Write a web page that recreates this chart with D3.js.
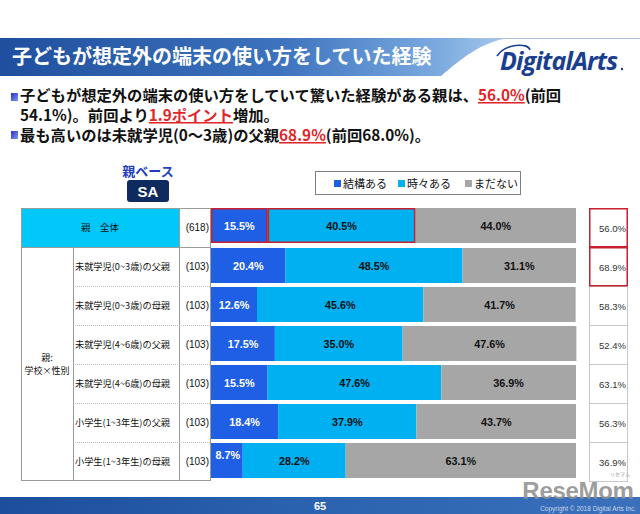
<!DOCTYPE html>
<html><head><meta charset="utf-8">
<script src="https://cdn.jsdelivr.net/npm/d3@7"></script>
<style>
body{margin:0;background:#fff;}
svg{display:block;font-family:"Noto Sans CJK JP","Noto Sans",sans-serif;}
</style>
</head><body>
<svg id="c" width="640" height="514"></svg>
<script>
// ---------- data ----------
const categories = ["親　全体","未就学児(0~3歳)の父親","未就学児(0~3歳)の母親","未就学児(4~6歳)の父親","未就学児(4~6歳)の母親","小学生(1~3年生)の父親","小学生(1~3年生)の母親"];
const sampleN = ["(618)","(103)","(103)","(103)","(103)","(103)","(103)"];
const seriesNames = ["結構ある","時々ある","まだない"];
const often = [15.5,20.4,12.6,17.5,15.5,18.4,8.7];
const sometimes = [40.5,48.5,45.6,35.0,47.6,37.9,28.2];
const notYet = [44.0,31.1,41.7,47.6,36.9,43.7,63.1];
const totalExp = [56.0,68.9,58.3,52.4,63.1,56.3,36.9];
const groupLabel = ["親:","学校×性別"];
const colors = ["#1F5FE6","#00B0F0","#A6A6A6"];

const svg = d3.select("#c");
const defs = svg.append("defs");

// ---------- header band ----------
const hg = defs.append("linearGradient").attr("id","hg").attr("x1","0").attr("x2","1");
hg.append("stop").attr("offset","0").attr("stop-color","#1F4F9E");
hg.append("stop").attr("offset","0.55").attr("stop-color","#3D73BE");
hg.append("stop").attr("offset","0.85").attr("stop-color","#78A8DE");
hg.append("stop").attr("offset","1").attr("stop-color","#A9C9EC");
svg.append("path").attr("d","M0,38 H510 C482,41 460,60 441,76 H0 Z").attr("fill","url(#hg)");
svg.append("line").attr("x1",470).attr("x2",640).attr("y1",38.5).attr("y2",38.5).attr("stroke","#A9BFDC").attr("stroke-width",1);
svg.append("text").attr("x",12).attr("y",64).attr("fill","#fff").attr("font-size",20).attr("font-weight","bold")
  .text("子どもが想定外の端末の使い方をしていた経験");
// logo
svg.append("text").attr("x",500).attr("y",70).attr("fill","#1B3F8F").attr("font-size",25).attr("font-weight","bold")
  .attr("font-style","italic").attr("font-family","'Open Sans',sans-serif").attr("letter-spacing",-0.8).text("DigitalArts");
svg.append("path").attr("d","M497,56 C505,44 528,42 530,50").attr("fill","none").attr("stroke","#1B3F8F").attr("stroke-width",1.6);
svg.append("circle").attr("cx",622).attr("cy",69).attr("r",1.2).attr("fill","#1B3F8F");

// ---------- bullets ----------
const bg = defs.append("linearGradient").attr("id","bg").attr("x1","0").attr("y1","0").attr("x2","1").attr("y2","1");
bg.append("stop").attr("offset","0").attr("stop-color","#2B2FC8");
bg.append("stop").attr("offset","1").attr("stop-color","#7C9BEA");
[97,135].forEach(yy=>svg.append("rect").attr("x",11).attr("y",yy-4).attr("width",7).attr("height",8).attr("fill","url(#bg)"));
const bl = [
  {y:101, parts:[["子どもが想定外の端末の使い方をしていて驚いた経験がある親は、",0],["56.0%",1],["(前回",0]]},
  {y:121, parts:[["54.1%)。前回より",0],["1.9ポイント",1],["増加。",0]]},
  {y:141, parts:[["最も高いのは未就学児(0～3歳)の父親",0],["68.9%",1],["(前回68.0%)。",0]]}
];
bl.forEach(l=>{
  const t = svg.append("text").attr("x",20).attr("y",l.y).attr("font-size",15.3).attr("font-weight","bold").attr("fill","#111");
  l.parts.forEach(p=>{
    const ts = t.append("tspan").text(p[0]);
    if(p[1]) ts.attr("fill","#E0262A").style("text-decoration","underline");
  });
});

// ---------- base / SA ----------
svg.append("text").attr("x",148).attr("y",176).attr("text-anchor","middle").attr("font-size",13).attr("font-weight","bold").attr("fill","#1F3FC0").text("親ベース");
svg.append("rect").attr("x",127).attr("y",180).attr("width",42).attr("height",22).attr("rx",3).attr("fill","#0F2A5E");
svg.append("text").attr("x",148).attr("y",197).attr("text-anchor","middle").attr("font-size",15).attr("font-weight","bold").attr("fill","#fff").attr("font-family","'Liberation Sans',sans-serif").text("SA");

// ---------- legend ----------
svg.append("rect").attr("x",315.5).attr("y",171.5).attr("width",205).attr("height",23).attr("fill","#fff").attr("stroke","#7F7F7F");
const legX = [334,398,465];
seriesNames.forEach((s,i)=>{
  svg.append("rect").attr("x",legX[i]).attr("y",180).attr("width",7).attr("height",7).attr("fill",colors[i]);
  svg.append("text").attr("x",legX[i]+9).attr("y",187.5).attr("font-size",11).attr("fill","#111").text(s);
});

// ---------- scales ----------
const x = d3.scaleLinear().domain([0,100]).range([211,576]);
const y = d3.scaleBand().domain(categories).range([208,481]);
const rows = categories.map((c,i)=>({cat:c,n:sampleN[i],v0:often[i],v1:sometimes[i],v2:notYet[i],tot:totalExp[i]}));
const stack = d3.stack().keys(["v0","v1","v2"])(rows);

// ---------- table ----------
const L0=21, L1=73, L2=179, L3=211;
const lineC="#9A9A9A";
svg.append("rect").attr("x",L0).attr("y",y(categories[0])).attr("width",L2-L0).attr("height",y.bandwidth()).attr("fill","#00C8F8");
const tbl = svg.append("g").attr("stroke",lineC).attr("stroke-width",1).attr("fill","none");
const tTop=208.5, tBot=480.5;
tbl.append("line").attr("x1",L0).attr("x2",L3).attr("y1",tTop).attr("y2",tTop);
tbl.append("line").attr("x1",L0).attr("x2",L3).attr("y1",tBot).attr("y2",tBot);
tbl.append("line").attr("x1",L0+0.5).attr("x2",L0+0.5).attr("y1",tTop).attr("y2",tBot);
tbl.append("line").attr("x1",L1+0.5).attr("x2",L1+0.5).attr("y1",y(categories[1])).attr("y2",tBot);
tbl.append("line").attr("x1",L2+0.5).attr("x2",L2+0.5).attr("y1",tTop).attr("y2",tBot);
tbl.append("line").attr("x1",L3-0.5).attr("x2",L3-0.5).attr("y1",tTop).attr("y2",tBot);
tbl.append("line").attr("x1",L0).attr("x2",L3).attr("y1",Math.round(y(categories[1]))+0.5).attr("y2",Math.round(y(categories[1]))+0.5);
categories.slice(2).forEach(c=>{
  const yy=Math.round(y(c))+0.5;
  tbl.append("line").attr("x1",L1).attr("x2",L3).attr("y1",yy).attr("y2",yy).attr("stroke","#BDBDBD").attr("stroke-dasharray","1,1");
});
rows.forEach((r,i)=>{
  const cy = y(r.cat)+y.bandwidth()/2+3.5;
  if(i===0){
    svg.append("text").attr("x",(L0+L2)/2).attr("y",cy).attr("text-anchor","middle").attr("font-size",9.5).attr("fill","#111").text(r.cat);
  } else {
    svg.append("text").attr("x",L1+2).attr("y",cy).attr("font-size",9.2).attr("fill","#111").text(r.cat);
  }
  svg.append("text").attr("x",L3-2).attr("y",cy).attr("text-anchor","end").attr("font-size",10).attr("fill","#111")
    .attr("font-family","'Liberation Sans',sans-serif").text(r.n);
});
const gy = (y(categories[1])+481)/2;
svg.append("text").attr("x",(L0+L1)/2).attr("y",gy-3).attr("text-anchor","middle").attr("font-size",9).attr("fill","#111").text(groupLabel[0]);
svg.append("text").attr("x",(L0+L1)/2).attr("y",gy+10).attr("text-anchor","middle").attr("font-size",9).attr("fill","#111").text(groupLabel[1]);

// ---------- bars ----------
const barH = 35;
stack.forEach((s,k)=>{
  const g = svg.append("g");
  g.selectAll("rect").data(s).join("rect")
    .attr("x",d=>x(d[0])).attr("width",d=>x(d[1])-x(d[0]))
    .attr("y",d=>y(d.data.cat)+(d.data.cat===categories[0]?0:1)).attr("height",barH)
    .attr("fill",colors[k]);
  g.selectAll("text").data(s).join("text")
    .attr("x",d=>(x(d[0])+x(d[1]))/2 + (k===0 && d[1]<10 ? 1 : 0))
    .attr("y",d=>y(d.data.cat)+(d.data.cat===categories[0]?0:1)+barH/2+(d[1]-d[0]<10?-2:4))
    .attr("text-anchor","middle").attr("font-size",10.8).attr("font-weight","bold")
    .attr("font-family","'Liberation Sans',sans-serif")
    .attr("fill",k===0?"#fff":"#111")
    .text(d=>(d[1]-d[0]).toFixed(1)+"%");
});
// highlight in first row
const r0 = stack[0][0], r1 = stack[1][0];
svg.append("rect").attr("x",x(r0[0])+0.75).attr("y",208.75).attr("width",x(r0[1])-x(r0[0])-1.5).attr("height",barH-1.5)
  .attr("fill","none").attr("stroke","#C8202E").attr("stroke-width",1.5);
svg.append("rect").attr("x",x(r1[0])+0.75).attr("y",208.75).attr("width",x(r1[1])-x(r1[0])-1.5).attr("height",barH-1.5)
  .attr("fill","none").attr("stroke","#C8202E").attr("stroke-width",1.5);

// ---------- right total column ----------
const R0=589, R1=628;
rows.forEach((r,i)=>{
  if(i>=2) svg.append("rect").attr("x",R0+0.5).attr("y",Math.round(y(r.cat))+0.5).attr("width",R1-R0-1).attr("height",Math.round(y.bandwidth()))
    .attr("fill","#fff").attr("stroke","#C8C8C8");
});
rows.forEach((r,i)=>{
  if(i<2) svg.append("rect").attr("x",R0+0.75).attr("y",Math.round(y(r.cat))+0.75).attr("width",R1-R0-1.5).attr("height",Math.round(y.bandwidth())-1)
    .attr("fill","none").attr("stroke","#C8202E").attr("stroke-width",1.5);
  svg.append("text").attr("x",R1-2).attr("y",y(r.cat)+y.bandwidth()/2+4).attr("text-anchor","end").attr("font-size",9.5)
    .attr("font-family","'Liberation Sans',sans-serif").attr("fill","#333").text(r.tot.toFixed(1)+"%");
});

// ---------- footer ----------
const fg = defs.append("linearGradient").attr("id","fg").attr("x1","0").attr("x2","1");
fg.append("stop").attr("offset","0").attr("stop-color","#1C4E9D");
fg.append("stop").attr("offset","0.5").attr("stop-color","#2C63B0");
fg.append("stop").attr("offset","1").attr("stop-color","#3A70BC");
svg.append("rect").attr("x",0).attr("y",497).attr("width",640).attr("height",17).attr("fill","url(#fg)");
svg.append("text").attr("x",320).attr("y",510).attr("text-anchor","middle").attr("font-size",11).attr("font-weight","bold").attr("fill","#fff")
  .attr("font-family","'Liberation Sans',sans-serif").text("65");
svg.append("text").attr("x",636).attr("y",511).attr("text-anchor","end").attr("font-size",6.5).attr("fill","#C9D6EA")
  .attr("font-family","'Liberation Sans',sans-serif").text("Copyright  ©  2018 Digital Arts Inc.");
svg.append("text").attr("x",578).attr("y",498.5).attr("text-anchor","middle").attr("font-size",24).attr("font-weight","bold")
  .attr("fill","#8C8C8C").attr("fill-opacity",0.85).attr("font-family","'Liberation Sans',sans-serif").attr("letter-spacing",-0.3).text("ReseMom");
svg.append("text").attr("x",620).attr("y",475.5).attr("text-anchor","middle").attr("font-size",5).attr("fill","#999").text("リセマム");
</script>
</body></html>
